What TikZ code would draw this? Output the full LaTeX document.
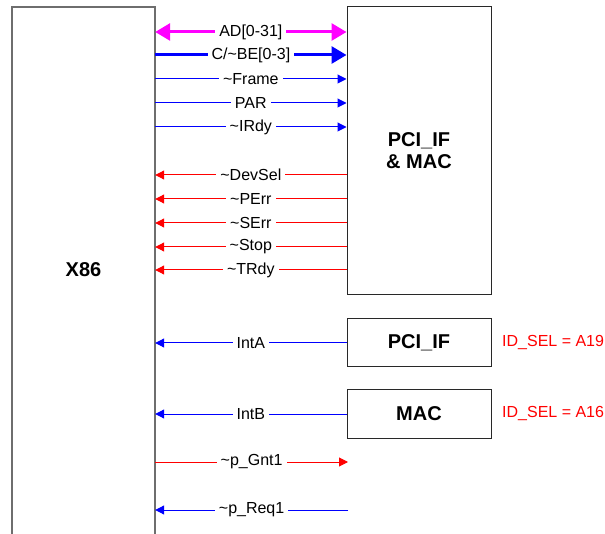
\documentclass[tikz,border=0pt]{standalone}
\usepackage{fontspec}
\setmainfont{Liberation Sans}
\usetikzlibrary{arrows.meta}
\definecolor{boxgray}{RGB}{110,110,110}
\definecolor{boxdark}{RGB}{40,40,40}
\definecolor{mag}{RGB}{255,0,255}
\definecolor{sigblue}{RGB}{0,0,255}
\definecolor{sigred}{RGB}{255,0,0}
\tikzset{
  thinsig/.style={line width=1pt, -{Triangle[length=9pt,width=9pt]}},
  thicksig/.style={line width=3pt, -{Triangle[length=15pt,width=17pt]}},
  lbl/.style={fill=white, inner xsep=4pt, inner ysep=1pt, font=\fontsize{16}{19}\selectfont, text=black},
  blk/.style={draw=boxdark, line width=1pt, rectangle, inner sep=0pt, font=\fontsize{20}{24}\selectfont\bfseries, align=center},
}
\begin{document}
\begin{tikzpicture}[x=1pt,y=-1pt]
\useasboundingbox[fill=white] (0,0) rectangle (605,534);
% X86 block (open at bottom)
\node[rectangle, minimum width=143pt, minimum height=527pt, inner sep=0pt] (X86) at (83.5,270.5) {};
\draw[boxgray, line width=1.5pt] (X86.south west) -- (X86.north west) -- (X86.north east) -- (X86.south east);
\node[font=\fontsize{20}{24}\selectfont\bfseries] (x86lbl) at (83.5,270) {X86};
% right blocks
\node[blk, minimum width=144pt, minimum height=288pt] (pm) at (419,151) {PCI\_IF\\[-2pt]\& MAC};
\node[blk, minimum width=144pt, minimum height=48pt] (pif) at (419,343) {PCI\_IF};
\node[blk, minimum width=144pt, minimum height=48pt] (mac) at (419,414) {MAC};
\node[anchor=west, text=sigred, font=\fontsize{16}{19}\selectfont, inner sep=0pt] (ida) at (502,343) {ID\_SEL = A19};
\node[anchor=west, text=sigred, font=\fontsize{16}{19}\selectfont, inner sep=0pt] (idb) at (502,414) {ID\_SEL = A16};
% signals to PCI_IF & MAC
\draw[thicksig, draw=mag, fill=mag, {Triangle[length=15pt,width=17pt]}-{Triangle[length=15pt,width=17pt]}] (X86.east |- 0,32) -- node[lbl] {AD[0-31]} (pm.west |- 0,32);
\draw[thicksig, draw=sigblue, fill=sigblue] (X86.east |- 0,55) -- node[lbl] {C/\textasciitilde BE[0-3]} (pm.west |- 0,55);
\draw[thinsig, draw=sigblue, fill=sigblue] (X86.east |- 0,79) -- node[lbl] {\textasciitilde Frame} (pm.west |- 0,79);
\draw[thinsig, draw=sigblue, fill=sigblue] (X86.east |- 0,103) -- node[lbl] {PAR} (pm.west |- 0,103);
\draw[thinsig, draw=sigblue, fill=sigblue] (X86.east |- 0,127) -- node[lbl] {\textasciitilde IRdy} (pm.west |- 0,127);
% signals from PCI_IF & MAC
\draw[thinsig, draw=sigred, fill=sigred] (pm.west |- 0,175) -- node[lbl] {\textasciitilde DevSel} (X86.east |- 0,175);
\draw[thinsig, draw=sigred, fill=sigred] (pm.west |- 0,199) -- node[lbl] {\textasciitilde PErr} (X86.east |- 0,199);
\draw[thinsig, draw=sigred, fill=sigred] (pm.west |- 0,223) -- node[lbl] {\textasciitilde SErr} (X86.east |- 0,223);
\draw[thinsig, draw=sigred, fill=sigred] (pm.west |- 0,247) -- node[lbl] {\textasciitilde Stop} (X86.east |- 0,247);
\draw[thinsig, draw=sigred, fill=sigred] (pm.west |- 0,270) -- node[lbl] {\textasciitilde TRdy} (X86.east |- 0,270);
% interrupts
\draw[thinsig, draw=sigblue, fill=sigblue] (pif.west) -- node[lbl] {IntA} (X86.east |- pif.west);
\draw[thinsig, draw=sigblue, fill=sigblue] (mac.west) -- node[lbl] {IntB} (X86.east |- mac.west);
% grant / request
\coordinate (gntend) at (348,462);
\coordinate (reqstart) at (348,510);
\draw[thinsig, draw=sigred, fill=sigred] (X86.east |- gntend) -- node[lbl] {\textasciitilde p\_Gnt1} (gntend);
\draw[thinsig, draw=sigblue, fill=sigblue] (reqstart) -- node[lbl] {\textasciitilde p\_Req1} (X86.east |- reqstart);
\end{tikzpicture}
\end{document}
